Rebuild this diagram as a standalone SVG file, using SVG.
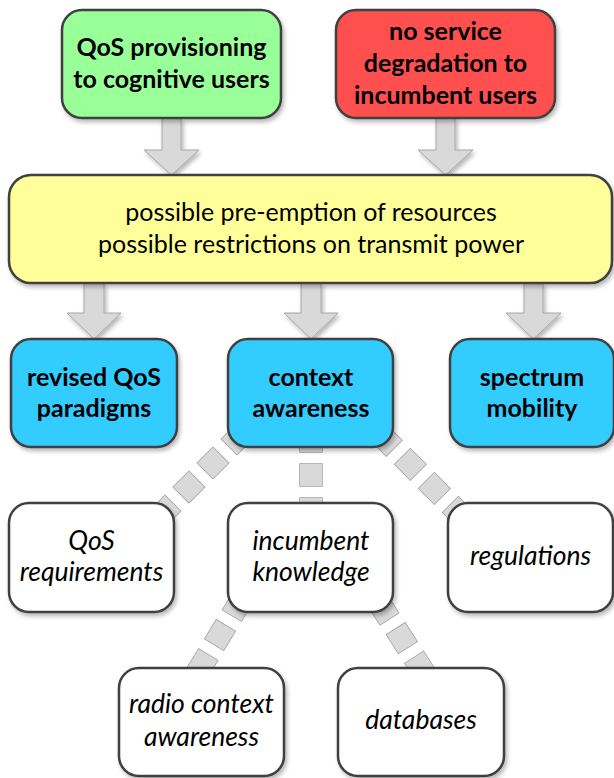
<svg xmlns="http://www.w3.org/2000/svg" width="614" height="778" viewBox="0 0 614 778">
<defs>
<filter id="sh" x="-10%" y="-10%" width="130%" height="130%">
<feDropShadow dx="2" dy="3" stdDeviation="2" flood-color="#000" flood-opacity="0.28"/>
</filter>
<style>
.box{stroke:#3f3f3f;stroke-width:2.5;filter:url(#sh)}
.arrow{fill:#d9d9d9;stroke:#a6a6a6;stroke-width:1;filter:url(#sh)}
.t{font-family:Lato,"Open Sans","Liberation Sans",sans-serif;font-size:25px;fill:#000;text-anchor:middle}
.b{font-weight:bold}
.i{font-style:italic;font-size:26.5px}
.dOut{fill:none;stroke:#a0a0a0;stroke-width:23.5;stroke-dasharray:23.5 10.5}
.dIn{fill:none;stroke:#d9d9d9;stroke-width:22;stroke-dasharray:22 12}
</style>
</defs>
<rect width="614" height="778" fill="#fff"/>

<g id="connectors">
<path class="arrow" d="M162,118 H181 V150 H199 L171.5,175 L144,150 H162 Z"/>
<path class="arrow" d="M436,118 H455 V150 H473 L445.5,175 L418,150 H436 Z"/>
<path class="arrow" d="M84,283 H104 V313 H121 L94,339 L67,313 H84 Z"/>
<path class="arrow" d="M301,283 H321 V313 H338 L311,339 L284,313 H301 Z"/>
<path class="arrow" d="M524,283 H543 V313 H561 L533.5,339 L506,313 H524 Z"/>
<g>
<line class="dOut" x1="250.2" y1="425.8" x2="151.8" y2="524.2" stroke-dashoffset="27.15"/>
<line class="dIn" x1="250.2" y1="425.8" x2="151.8" y2="524.2" stroke-dashoffset="26.4"/>
<line class="dOut" x1="371.8" y1="425.8" x2="470.2" y2="524.2" stroke-dashoffset="25.25"/>
<line class="dIn" x1="371.8" y1="425.8" x2="470.2" y2="524.2" stroke-dashoffset="24.5"/>
<line class="dOut" x1="311" y1="417" x2="311" y2="533" stroke-dashoffset="21.75"/>
<line class="dIn" x1="311" y1="417" x2="311" y2="533" stroke-dashoffset="21"/>
<line class="dOut" x1="249.6" y1="586.4" x2="184.4" y2="693.6" stroke-dashoffset="22.85"/>
<line class="dIn" x1="249.6" y1="586.4" x2="184.4" y2="693.6" stroke-dashoffset="22.1"/>
<line class="dOut" x1="368.8" y1="586.8" x2="437.2" y2="693.2" stroke-dashoffset="18.75"/>
<line class="dIn" x1="368.8" y1="586.8" x2="437.2" y2="693.2" stroke-dashoffset="18"/>
</g>
</g>

<g id="qos-provisioning">
<rect class="box" x="62" y="10" width="219" height="108" rx="20" fill="#99ff99"/>
<text class="t b" x="171.5" y="56">QoS provisioning</text>
<text class="t b" x="171.5" y="88">to cognitive users</text>
</g>
<g id="no-degradation">
<rect class="box" x="336" y="10" width="219" height="108" rx="20" fill="#ff5050"/>
<text class="t b" x="445.5" y="40">no service</text>
<text class="t b" x="445.5" y="72">degradation to</text>
<text class="t b" x="445.5" y="104">incumbent users</text>
</g>
<g id="possible">
<rect class="box" x="9" y="175" width="603" height="108" rx="22" fill="#ffff99"/>
<text class="t" x="311" y="221">possible pre-emption of resources</text>
<text class="t" x="311" y="253">possible restrictions on transmit power</text>
</g>
<g id="revised-qos">
<rect class="box" x="11" y="339" width="166" height="108" rx="20" fill="#33ccff"/>
<text class="t b" x="94" y="386">revised QoS</text>
<text class="t b" x="94" y="417">paradigms</text>
</g>
<g id="context-awareness">
<rect class="box" x="228" y="339" width="165" height="108" rx="20" fill="#33ccff"/>
<text class="t b" x="311" y="386">context</text>
<text class="t b" x="311" y="417">awareness</text>
</g>
<g id="spectrum-mobility">
<rect class="box" x="450" y="339" width="164" height="108" rx="20" fill="#33ccff"/>
<text class="t b" x="532" y="386">spectrum</text>
<text class="t b" x="532" y="417">mobility</text>
</g>
<g id="qos-requirements">
<rect class="box" x="9" y="503" width="165" height="109" rx="20" fill="#fff"/>
<text class="t i" x="91.5" y="550">QoS</text>
<text class="t i" x="91.5" y="581">requirements</text>
</g>
<g id="incumbent-knowledge">
<rect class="box" x="228" y="503" width="165" height="109" rx="20" fill="#fff"/>
<text class="t i" x="311" y="550">incumbent</text>
<text class="t i" x="311" y="581">knowledge</text>
</g>
<g id="regulations">
<rect class="box" x="448" y="503" width="165" height="109" rx="20" fill="#fff"/>
<text class="t i" x="530.5" y="565">regulations</text>
</g>
<g id="radio-context">
<rect class="box" x="119" y="668" width="165" height="108" rx="20" fill="#fff"/>
<text class="t i" x="201.5" y="713">radio context</text>
<text class="t i" x="201.5" y="746">awareness</text>
</g>
<g id="databases">
<rect class="box" x="338" y="668" width="166" height="108" rx="20" fill="#fff"/>
<text class="t i" x="421" y="729">databases</text>
</g>
</svg>
